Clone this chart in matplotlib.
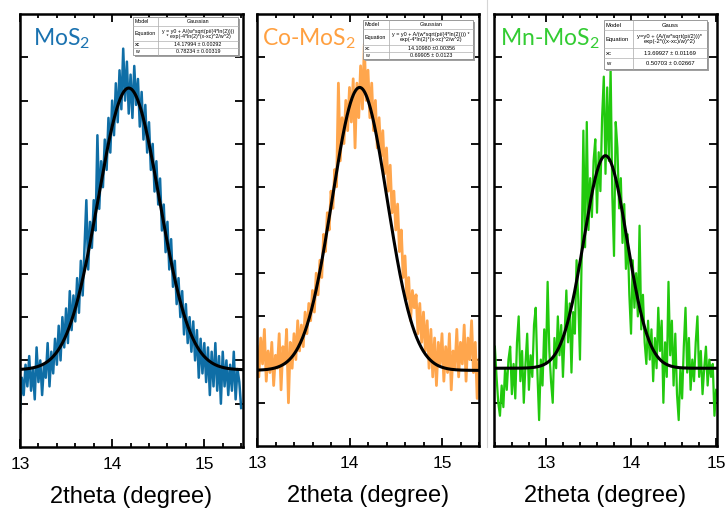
import numpy as np
import matplotlib
matplotlib.use("Agg")
import matplotlib.pyplot as plt
from matplotlib.patches import Rectangle
from matplotlib.lines import Line2D
from matplotlib.ticker import MultipleLocator

plt.rcParams['font.family'] = ['Liberation Sans', 'DejaVu Sans']
plt.rcParams['mathtext.fontset'] = 'custom'
plt.rcParams['mathtext.rm'] = 'Lato'
plt.rcParams['mathtext.it'] = 'Lato:italic'

# scans: start angle, step, intensity (arb. units, axis spans 0..10)
mos2_start, mos2_step = 13.00, 0.02
mos2_y = [0.8, 1.6, 1.2, 1.9, 1.4, 2.1, 1.3, 1.8, 1.1, 2.3,
          1.5, 2.0, 1.2, 1.9, 1.6, 2.4, 1.4, 2.2, 1.7, 2.5,
          1.9, 2.8, 2.0, 3.0, 2.3, 3.2, 2.4, 3.6, 2.7, 3.5,
          2.9, 3.9, 3.1, 4.3, 3.5, 4.6, 5.7, 4.1, 5.2, 4.6,
          5.7, 5.0, 7.2, 5.5, 6.6, 6.0, 7.1, 6.4, 7.6, 6.8,
          8.0, 7.2, 8.4, 7.5, 8.7, 7.8, 9.2, 8.0, 8.9, 7.7,
          8.6, 7.6, 8.8, 7.9, 8.5, 7.4, 8.2, 7.1, 7.9, 6.8,
          7.5, 6.4, 7.0, 5.9, 6.6, 5.6, 6.2, 5.0, 5.6, 4.5,
          5.2, 4.1, 4.8, 3.7, 4.3, 3.3, 3.9, 3.0, 3.6, 2.6,
          3.3, 2.4, 3.0, 2.2, 2.9, 2.0, 2.7, 1.6, 2.5, 1.7,
          2.4, 1.5, 2.3, 1.2, 2.2, 1.4, 2.4, 1.3, 2.1, 1.0,
          2.2, 1.4, 2.0, 1.2, 1.9, 1.3, 2.2, 1.1, 1.8, 1.5,
          0.9]

comos2_start, comos2_step = 13.00, 0.02
comos2_y = [2.3, 1.6, 2.5, 1.9, 2.7, 1.5, 2.2, 1.7, 2.4, 1.4,
            2.1, 1.8, 2.6, 1.3, 2.3, 1.9, 2.7, 1.0, 2.4, 1.8,
            2.6, 2.0, 2.9, 2.2, 2.8, 2.3, 3.1, 2.6, 3.3, 2.9,
            3.6, 3.1, 4.0, 3.5, 4.3, 3.9, 4.9, 4.5, 5.4, 5.0,
            5.9, 5.5, 6.4, 6.0, 8.4, 6.6, 7.6, 7.0, 8.0, 7.3,
            8.3, 7.5, 8.5, 6.9, 8.4, 7.6, 8.8, 7.8, 9.3, 8.0,
            8.7, 7.6, 8.4, 7.3, 8.0, 6.9, 7.6, 6.7, 7.3, 6.3,
            6.9, 5.9, 6.5, 5.4, 5.9, 5.0, 5.6, 4.5, 5.0, 3.9,
            4.4, 3.4, 3.9, 2.9, 3.6, 3.2, 3.5, 2.6, 3.3, 2.4,
            3.1, 2.2, 2.9, 1.8, 2.7, 1.6, 2.5, 1.4, 2.4, 1.9,
            2.6, 1.5, 2.3, 1.7, 2.6, 1.3, 2.2, 1.8, 2.7, 1.6,
            2.4, 1.9, 2.8, 1.5, 2.5, 2.0, 2.9, 1.7, 2.4, 1.1,
            2.0]

mnmos2_start, mnmos2_step = 12.40, 0.02
mnmos2_y = [2.3, 1.6, 1.0, 0.7, 1.4, 0.9, 1.8, 1.3, 2.0, 2.3,
            1.2, 1.9, 1.1, 2.4, 3.0, 1.5, 2.2, 1.0, 1.9, 2.6,
            1.3, 2.1, 1.6, 2.8, 3.2, 1.7, 0.6, 2.0, 1.4, 2.7,
            1.9, 3.8, 2.2, 1.5, 1.0, 2.5, 1.8, 3.0, 2.1, 2.8,
            1.6, 2.6, 3.6, 2.4, 3.3, 1.7, 3.1, 2.6, 4.3, 3.4,
            2.0, 4.4, 7.3, 4.6, 7.5, 5.0, 6.2, 5.3, 6.6, 7.1,
            5.4, 6.8, 5.9, 7.6, 8.55, 6.3, 8.3, 6.6, 8.75, 5.8,
            4.4, 7.5, 6.9, 5.5, 6.2, 4.7, 5.6, 4.1, 4.9, 3.5,
            2.6, 4.3, 3.2, 4.0, 3.0, 5.1, 2.7, 3.5, 2.4, 1.9,
            2.9, 2.0, 2.7, 1.5, 2.5, 1.8, 3.2, 2.2, 2.9, 1.0,
            2.4, 1.6, 3.8, 2.1, 2.9, 1.4, 2.6, 1.2, 0.6, 1.8,
            1.1, 2.3, 3.2, 1.7, 2.5, 1.3, 2.0, 1.5, 2.4, 3.0,
            1.6, 2.2, 1.2, 1.8, 2.3, 1.4, 2.0, 1.6, 1.9, 0.7,
            1.3]

mos2_fit = (1.78, 6.51, 14.17994, 0.78234)
comos2_fit = (1.75, 6.55, 14.10980, 0.69905)
mnmos2_fit = (1.80, 4.92, 13.69927, 0.50703)

names = ['MoS$_2$', 'Co-MoS$_2$', 'Mn-MoS$_2$']
line_colors = ['#0f6ea6', '#ffa64d', '#22c90e']
name_colors = ['#1a72b0', '#ffa040', '#33cc33']
xlims = [(13.0, 15.42), (13.0, 15.4), (12.39, 15.01)]

tables = [
    [('Model', 'Gaussian'),
     ('Equation', 'y = y0 + A/(w*sqrt(pi/(4*ln(2))))\n * exp(-4*ln(2)*(x-xc)^2/w^2)'),
     ('xc', '14.17994 \u00b1 0.00292'),
     ('w', '0.78234 \u00b1 0.00319')],
    [('Model', 'Gaussian'),
     ('Equation', 'y = y0 + A/(w*sqrt(pi/(4*ln(2)))) *\nexp(-4*ln(2)*(x-xc)^2/w^2)'),
     ('xc', '14.10980 \u00b10.00356'),
     ('w', '0.69905 \u00b1 0.0123')],
    [('Model', 'Gauss'),
     ('Equation', 'y=y0 + (A/(w*sqrt(pi/2)))*\nexp(-2*((x-xc)/w)^2)'),
     ('xc', '13.69927 \u00b1 0.01169'),
     ('w', '0.50703 \u00b1 0.02667')],
]


def fwhm_gauss(x, y0, h, xc, w):
    return y0 + h * np.exp(-4 * np.log(2) * (x - xc) ** 2 / w ** 2)


def w_gauss(x, y0, h, xc, w):
    return y0 + h * np.exp(-2 * ((x - xc) / w) ** 2)


def draw_table(ax, left, right, top, split, heights, rows, fs):
    total = sum(heights)
    bottom = top - total
    kw = dict(transform=ax.transAxes, clip_on=False)
    ax.add_patch(Rectangle((left + 0.008, bottom - 0.005), right - left, total,
                           facecolor='#a0a0a0', edgecolor='none', zorder=5, **kw))
    ax.add_patch(Rectangle((left, bottom), right - left, total,
                           facecolor='white', edgecolor='#8a8a8a', lw=0.6, zorder=6, **kw))
    ax.plot([split, split], [bottom, top], color='#a8a8a8', lw=0.5, zorder=7, **kw)
    y = top
    for (k, v), h in zip(rows, heights):
        ax.text(left + 0.008, y - h / 2, k, fontsize=fs, ha='left', va='center',
                zorder=8, **kw)
        ax.text((split + right) / 2, y - h / 2, v, fontsize=fs, ha='center',
                va='center', linespacing=0.95, zorder=8, **kw)
        y -= h
        if y > bottom + 1e-6:
            ax.plot([left, right], [y, y], color='#b0b0b0', lw=0.5, zorder=7, **kw)


fig = plt.figure(figsize=(7.26, 5.11), dpi=100)
W, H = 726, 511
boxes = [(20, 243, 14, 447), (257, 479, 14, 446), (494, 717, 14, 446)]

scans = [(mos2_start, mos2_step, mos2_y, mos2_fit, fwhm_gauss),
         (comos2_start, comos2_step, comos2_y, comos2_fit, fwhm_gauss),
         (mnmos2_start, mnmos2_step, mnmos2_y, mnmos2_fit, w_gauss)]

table_geom = [
    (0.507, 0.978, 0.993, 0.619, [0.021, 0.035, 0.016, 0.016], 3.8),
    (0.477, 0.973, 0.986, 0.595, [0.021, 0.037, 0.016, 0.016], 3.9),
    (0.493, 0.955, 0.986, 0.623, [0.023, 0.042, 0.023, 0.025], 4.2),
]
name_x = [0.058, 0.023, 0.027]
data_lw = [1.8, 2.0, 1.6]

for i, (l, r, t, b) in enumerate(boxes):
    ax = fig.add_axes([l / W, 1 - b / H, (r - l) / W, (b - t) / H])
    start, step, ys, fit, func = scans[i]
    xs = start + step * np.arange(len(ys))
    ax.plot(xs, ys, color=line_colors[i], lw=data_lw[i], zorder=2)
    xf = np.linspace(xlims[i][0], xlims[i][1], 400)
    ax.plot(xf, func(xf, *fit), color='black', lw=2.2, zorder=3)

    ax.set_xlim(*xlims[i])
    ax.set_ylim(0, 10)
    ax.xaxis.set_major_locator(MultipleLocator(1))
    ax.xaxis.set_minor_locator(MultipleLocator(0.2))
    ax.set_yticks(np.arange(1, 10))
    ax.tick_params(axis='both', which='both', direction='in', top=True, right=True,
                   width=1.3, colors='black')
    ax.tick_params(axis='both', which='major', length=5.5)
    ax.tick_params(axis='x', which='minor', length=3)
    ax.tick_params(axis='y', labelleft=False)
    ax.tick_params(axis='x', labelsize=12.5, pad=7)
    for s in ax.spines.values():
        s.set_linewidth(1.8)
    ax.set_xlabel('2theta (degree)', fontsize=17, labelpad=10)

    ax.text(name_x[i], 0.928, names[i], transform=ax.transAxes, fontsize=16.5,
            color=name_colors[i], family='Lato', ha='left', va='baseline', zorder=4)

    tl, tr, tt, ts, th, tfs = table_geom[i]
    draw_table(ax, tl, tr, tt, ts, th, tables[i], tfs)

fig.add_artist(Line2D([487 / W, 487 / W], [1, 1 - 447 / H], color='#d5d5d5', lw=0.8))

fig.savefig('out.png', dpi=100)
